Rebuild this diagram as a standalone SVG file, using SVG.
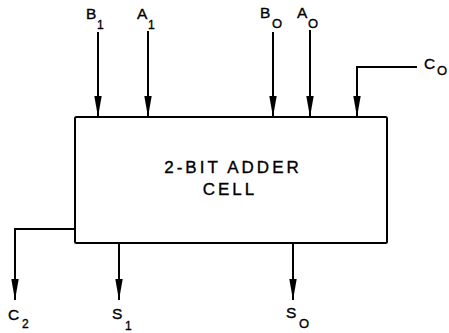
<svg xmlns="http://www.w3.org/2000/svg" width="449" height="333" viewBox="0 0 449 333">
<defs>
<style>
.w{fill:none;stroke:#000;stroke-width:2}
.a{marker-end:url(#ah)}
text{font-family:"Liberation Sans",Arial,sans-serif;fill:#000;stroke:#000;stroke-width:0.35}
.lb{font-size:15.5px}
.sb{font-size:12px}
.so{font-size:13px}
.ct{font-size:17px;letter-spacing:3px;text-anchor:middle}
</style>
<marker id="ah" viewBox="0 0 21 8" refX="21" refY="4" markerWidth="21" markerHeight="8" markerUnits="userSpaceOnUse" orient="auto">
<path d="M0,0.3 L21,4 L0,7.7 z" fill="#000"/>
</marker>
</defs>
<rect width="449" height="333" fill="#fff" stroke="none"/>
<g id="cell">
<rect x="75" y="117" width="312" height="126" rx="1.5" class="w"/>
<text class="ct" x="233" y="173">2-BIT ADDER</text>
<text class="ct" x="230" y="195">CELL</text>
</g>
<g id="B1"><text class="lb" x="86" y="19">B</text><text class="sb" x="97" y="29">1</text></g>
<g id="A1"><text class="lb" x="137" y="19">A</text><text class="sb" x="148" y="29">1</text></g>
<g id="B0"><text class="lb" x="260" y="18">B</text><text class="so" x="272" y="28">O</text></g>
<g id="A0"><text class="lb" x="297" y="18">A</text><text class="so" x="308" y="28">O</text></g>
<g id="C0"><text class="lb" x="424" y="69">C</text><text class="so" x="437" y="75">O</text></g>
<g id="C2"><text class="lb" x="8" y="320">C</text><text class="sb" x="22" y="328">2</text></g>
<g id="S1"><text class="lb" x="112" y="319">S</text><text class="sb" x="125" y="330">1</text></g>
<g id="S0"><text class="lb" x="286" y="318">S</text><text class="so" x="299" y="328">O</text></g>
<g id="connectors">
<line class="w a" x1="98" y1="32" x2="98" y2="117"/>
<line class="w a" x1="148" y1="31" x2="148" y2="117"/>
<line class="w a" x1="273" y1="32" x2="273" y2="117"/>
<line class="w a" x1="310" y1="30" x2="310" y2="117"/>
<polyline class="w a" points="417,67 357,67 357,117"/>
<polyline class="w a" points="75,229 15,229 15,300"/>
<line class="w a" x1="119" y1="243" x2="119" y2="300"/>
<line class="w a" x1="293" y1="243" x2="293" y2="300"/>
</g>
</svg>
